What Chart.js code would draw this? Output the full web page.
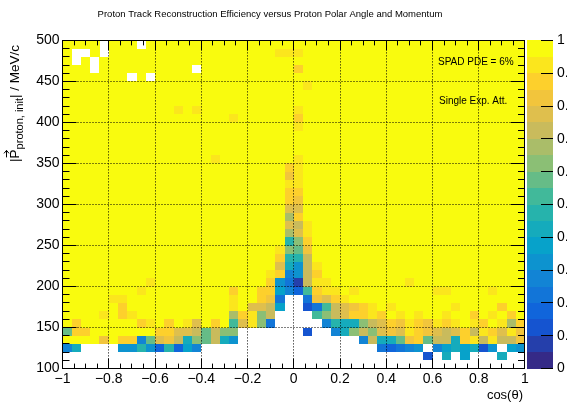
<!DOCTYPE html>
<html>
<head>
<meta charset="utf-8">
<script src="https://cdn.jsdelivr.net/npm/chart.js@4.4.0/dist/chart.umd.min.js"></script>
<style>
  html, body { margin: 0; padding: 0; background: #fff; }
  canvas { display: block; }
</style>
</head>
<body>
<canvas id="eff" width="567" height="409"></canvas>
<script>
// ---- data ----
const plotTitle = 'Proton Track Reconstruction Efficiency versus Proton Polar Angle and Momentum';
const cosMin = -1, cosMax = 1, cosBins = 50;     // cos(theta) binning
const pMin = 100, pMax = 500, pBins = 40;        // momentum binning, MeV/c
const xTicks = [-1, -0.8, -0.6, -0.4, -0.2, 0, 0.2, 0.4, 0.6, 0.8, 1];
const yTicks = [100, 150, 200, 250, 300, 350, 400, 450, 500];
const zTicks = [0, 0.1, 0.2, 0.3, 0.4, 0.5, 0.6, 0.7, 0.8, 0.9, 1];
const notes = ['SPAD PDE = 6%', 'Single Exp. Att.'];

// one char per bin = colour band
// '0'..'9','a'..'j' -> 0.00-0.05 ... 0.95-1.00, '.' = empty bin
// first string is the top row (490-500 MeV/c), groups of 10 bins
const bandChars = '0123456789abcdefghij';
const effRows = [
  'jjjj.jjj.j jjjjjjjjjj jjjjjjjjjj jjjjjjjjjj jjjjjjjjjj',
  'j..j.jjjjj jjjjjjjjjj jjjiiijjjj jjjjjjjjjj jjjjjjjjjj',
  'j.j.jjjjjj jjjjjjjjjj jjjjjjjjjj jjjjjjjjjj jjjjjjjjjj',
  'jjj.jjjjjj jjjj.jjjjj jjjjjhjjjj jjjjjjjjjj jjjjjjjjjj',
  'jjjjjjj.j. jjjjjjjjjj jjjjjjjjjj jjjjjjjjjj jjjjjjjjjj',
  'jjjjjjjjjj jjjjjjjjjj jjjjjjijjj jjjjjjjjjj jjjjjjjjjj',
  'jjjjjjjjjj jjjjjjjjjj jjjjjjjjjj jjjjjjjjjj jjjjjjjjjj',
  'jjjjjjjjjj jjjjjjjjjj jjjjjjjjjj jjjjjjjjjj jjjjjjjjjj',
  'jjjjjjjjjj jjijijjjjj jjjjjijjjj jjjjjjjjjj jjjjjjjjjj',
  'jjjjjjjjjj jjjjjjjjij jjjjjhjjjj jjjjjjjjjj jjjjjjjjjj',
  'jjjjjjjjjj jjjjjjjjjj jjjjjijjjj jjjjjjjjjj jjjjjjjjjj',
  'jjjjjjjjjj jjjjjjjjjj jjjjjjjjjj jjjjjjjjjj jjjjjjjjjj',
  'jjjjjjjjjj jjjjjjjjjj jjjjjjjjjj jjjjjjjjjj jjjjjjjjjj',
  'jjjjjjjjjj jjjjjjjjjj jjjjjjjjjj jjjjjjjjjj jjjjjjjjjj',
  'jjjjjjjjjj jjjjjjijjj jjjjjijjjj jjjjjjjjjj jjjjjjjjjj',
  'jjjjjjjjjj jjjjjjjjjj jjjjhijjjj jjjjjjjjjj jjjjjjjjjj',
  'jjjjjjjjjj jjjjjjjjjj jjjjgijjjj jjjjjjjjjj jjjjjjjjjj',
  'jjjjjjjjjj jjjjjjjjjj jjjjiijjjj jjjjjjjjjj jjjjjjjjjj',
  'jjjjjjjjjj jjjjjjjjjj jjjjhhjjjj jjjjjjjjjj jjjjjjjjjj',
  'jjjjjjjjjj jjjjjjjjjj jjjjhgjjjj jjjjjjjjjj jjjjjjjjjj',
  'jjjjjjjjjj jjjjjjjjjj jjjjffjjjj jjjjjjjjjj jjjjjjjjjj',
  'jjjjjjjjjj jjjjjjjjjj jjjjdhjjjj jjjjjjjjjj jjjjjjjjjj',
  'jjjjjjjjjj jjjjjjjjjj jjjjfeijjj jjjjjjjjjj jjjjjjjjjj',
  'jjjjjjjjjj jjjjjjjjjj jjjjdfijjj jjjjjjjjjj jjjjjjjjjj',
  'jjjjjjjjjj jjjjjjjjjj jjjj9chjjj jjjjjjjjjj jjjjjjjjjj',
  'jjjjjjjjjj jjjjjjjjjj jjjicbgjjj jjjjjjjjjj jjjjjjjjjj',
  'jjjjjjjjjj jjjjjjjjjj jjjh99ejjj jjjjjjjjjj jjjjjjjjjj',
  'jjjjjjjjjj jjjjjjjjjj jjjf86eijj jjjjjjjjjj jjjjjjjjjj',
  'jjjjjjjjjj jjjjjjjjjj jjih56ehjj jjjjjjjjjj jjjjjjjjjj',
  'jjjjjjjjji jjjjjjjjjj jjh641eiij jjjjjjjijj jjjjjjjjjj',
  'jjjjjjjjij jjjjjjjjhj jhh753ahii jijjjjjjjj iijjjjijjj',
  'jjjjjiijjj jjjjjjjjij jhg4..4gfh ijjjjjjjjj jjjjjjjjjj',
  'jjjjjjhjjj jjjjjjjjij ffe7..24ae fghijijjjj jjijjjjhjj',
  'jjjjijhijj jjjjjjjjdh ice....ace fhhihjijij jijjhjijhj',
  'jhjjjjjjhi jhjifjhjaf ic4.....59 88cefhgihg ihijihjidh',
  'bhhjjjjjjj hhffebecc. ......2..5 8cecfgfihg fefheihfig',
  'jjjjgjhh5b fge8cbe86. .......... ..5e88bghb ee8hieieeg',
  '58....6696 39375..... .......... ....43456. 5787826.76',
  '.......... .......... .......... .........2 .8.7...8..',
  '.......... .......... .......... .......... ..........'
];

// ---- ROOT kBird palette, 20 contour bands ----
const birdStops = [0, 0.125, 0.25, 0.375, 0.5, 0.625, 0.75, 0.875, 1];
const birdR = [0.2082, 0.0592, 0.0780, 0.0232, 0.1802, 0.5301, 0.8186, 0.9956, 0.9764];
const birdG = [0.1664, 0.3599, 0.5041, 0.6419, 0.7178, 0.7492, 0.7328, 0.7862, 0.9832];
const birdB = [0.5293, 0.8684, 0.8385, 0.7914, 0.6425, 0.4662, 0.3499, 0.1968, 0.0539];
const nBands = 20;

function birdColor(t) {
  let i = 0;
  while (i < birdStops.length - 2 && t > birdStops[i + 1]) i++;
  const f = (t - birdStops[i]) / (birdStops[i + 1] - birdStops[i]);
  const c = a => Math.round(255 * (a[i] + f * (a[i + 1] - a[i])));
  return `rgb(${c(birdR)},${c(birdG)},${c(birdB)})`;
}
const bandColors = Array.from({ length: nBands }, (_, i) => birdColor(i / (nBands - 1)));
const bandOf = v => Math.max(0, Math.min(nBands - 1, Math.floor(v * nBands)));

// ---- build bins for the dataset ----
const dCos = (cosMax - cosMin) / cosBins;
const dP = (pMax - pMin) / pBins;
const cells = [];
effRows.forEach((row, k) => {
  const chars = row.replace(/ /g, '');
  for (let c = 0; c < cosBins; c++) {
    const ch = chars[c];
    if (ch === '.') continue;
    const band = bandChars.indexOf(ch);
    cells.push({ x: cosMin + (c + 0.5) * dCos, y: pMax - (k + 0.5) * dP, v: (band + 0.5) / nBands });
  }
});

const FONT = '"Liberation Sans", Arial, Helvetica, sans-serif';
const crisp = v => Math.floor(v) + 0.5;
const fmtNum = v => {
  const r = Math.round(v * 10) / 10;
  return r < 0 ? '\u2212' + Math.abs(r) : String(r);
};

/** ------------------------
 *  TH2 "colz" painter
 ------------------------ */
const colzPlugin = {
  id: 'colz',
  beforeDatasetsDraw(chart) {
    const { ctx } = chart;
    const xs = chart.scales.x, ys = chart.scales.y;
    ctx.save();
    chart.data.datasets[0].data.forEach(p => {
      const x0 = Math.round(xs.getPixelForValue(p.x - dCos / 2));
      const x1 = Math.round(xs.getPixelForValue(p.x + dCos / 2));
      const y0 = Math.round(ys.getPixelForValue(p.y + dP / 2));
      const y1 = Math.round(ys.getPixelForValue(p.y - dP / 2));
      ctx.fillStyle = bandColors[bandOf(p.v)];
      ctx.fillRect(x0, y0, x1 - x0, y1 - y0);
    });
    ctx.restore();
  },
  afterDatasetsDraw(chart) {
    const { ctx, chartArea: a } = chart;
    const xs = chart.scales.x, ys = chart.scales.y, zs = chart.scales.z;
    ctx.save();
    ctx.strokeStyle = '#000';
    ctx.lineWidth = 1;

    // dotted grid at major ticks
    ctx.setLineDash([1, 2]);
    ctx.beginPath();
    xTicks.slice(1, -1).forEach(t => {
      const px = crisp(xs.getPixelForValue(t));
      ctx.moveTo(px, a.top); ctx.lineTo(px, a.bottom);
    });
    yTicks.slice(1, -1).forEach(t => {
      const py = crisp(ys.getPixelForValue(t));
      ctx.moveTo(a.left, py); ctx.lineTo(a.right, py);
    });
    ctx.stroke();
    ctx.setLineDash([]);

    // tick marks inside the frame, on all four sides
    ctx.beginPath();
    const xMinor = 4, yMinor = 5;
    for (let i = 0; i < xTicks.length - 1; i++) {
      const step = (xTicks[i + 1] - xTicks[i]) / xMinor;
      for (let j = 0; j < xMinor; j++) {
        const px = crisp(xs.getPixelForValue(xTicks[i] + j * step));
        const len = j === 0 ? 10 : 5;
        ctx.moveTo(px, a.bottom); ctx.lineTo(px, a.bottom - len);
        ctx.moveTo(px, a.top); ctx.lineTo(px, a.top + len);
      }
    }
    for (let i = 0; i < yTicks.length - 1; i++) {
      const step = (yTicks[i + 1] - yTicks[i]) / yMinor;
      for (let j = 0; j < yMinor; j++) {
        const py = crisp(ys.getPixelForValue(yTicks[i] + j * step));
        const len = j === 0 ? 14 : 7;
        ctx.moveTo(a.left, py); ctx.lineTo(a.left + len, py);
        ctx.moveTo(a.right, py); ctx.lineTo(a.right - len, py);
      }
    }
    ctx.stroke();
    ctx.strokeRect(crisp(a.left), crisp(a.top), Math.round(a.right - a.left) - 1, Math.round(a.bottom - a.top));

    // palette
    const barL = 527, barR = 553;
    for (let i = 0; i < nBands; i++) {
      const yTop = Math.round(zs.getPixelForValue((i + 1) / nBands));
      const yBot = Math.round(zs.getPixelForValue(i / nBands));
      ctx.fillStyle = bandColors[i];
      ctx.fillRect(barL, yTop, barR - barL, yBot - yTop);
    }
    ctx.beginPath();
    zTicks.forEach(t => {
      const py = crisp(zs.getPixelForValue(t));
      ctx.moveTo(barR, py); ctx.lineTo(barR - 12, py);
    });
    ctx.stroke();
    ctx.restore();
  },
  afterDraw(chart) {
    const { ctx } = chart;
    ctx.save();
    ctx.fillStyle = '#000';
    ctx.textBaseline = 'alphabetic';

    // title
    ctx.font = `9.5px ${FONT}`;
    ctx.textAlign = 'center';
    ctx.fillText(plotTitle, 270, 16.5);

    // notes
    ctx.font = `10px ${FONT}`;
    ctx.textAlign = 'left';
    ctx.fillText(notes[0], 438, 64.5);
    ctx.fillText(notes[1], 439, 104);

    // x title
    ctx.font = `13px ${FONT}`;
    ctx.textAlign = 'right';
    ctx.fillText('cos(\u03b8)', 523, 399);

    // y title: |P(vec)_{proton, init}| / MeV/c, rotated
    ctx.textAlign = 'left';
    const big = `13.5px ${FONT}`, small = `11px ${FONT}`;
    const parts = [
      { t: '|', f: big, dy: 0 },
      { t: 'P', f: big, dy: 0, arrow: true },
      { t: 'proton, init', f: small, dy: 3.5 },
      { t: '| / MeV/c', f: big, dy: 0 }
    ];
    let total = 0;
    parts.forEach(p => { ctx.font = p.f; p.w = ctx.measureText(p.t).width; total += p.w; });
    ctx.translate(19, 45);
    ctx.rotate(-Math.PI / 2);
    let x = -total;
    parts.forEach(p => {
      ctx.font = p.f;
      ctx.fillText(p.t, x, p.dy);
      if (p.arrow) {
        const ay = -12.5;
        ctx.beginPath();
        ctx.lineWidth = 1;
        ctx.strokeStyle = '#000';
        ctx.moveTo(x + 1, ay); ctx.lineTo(x + p.w - 1, ay);
        ctx.moveTo(x + p.w - 4, ay - 2.5); ctx.lineTo(x + p.w - 1, ay); ctx.lineTo(x + p.w - 4, ay + 2.5);
        ctx.stroke();
      }
      x += p.w;
    });
    ctx.restore();
  }
};

const tickFont = { family: FONT, size: 14 };
new Chart(document.getElementById('eff').getContext('2d'), {
  type: 'scatter',
  data: { datasets: [{ data: cells, pointRadius: 0, pointHoverRadius: 0, showLine: false }] },
  options: {
    responsive: false,
    animation: false,
    events: [],
    layout: { padding: { top: 39.5, left: 0, right: 0, bottom: 0 } },
    plugins: { legend: { display: false }, tooltip: { enabled: false }, title: { display: false } },
    scales: {
      x: {
        type: 'linear', min: cosMin, max: cosMax,
        grid: { display: false, drawTicks: false }, border: { display: false },
        afterBuildTicks: s => { s.ticks = xTicks.map(v => ({ value: v })); },
        ticks: { color: '#000', font: tickFont, padding: 2, maxRotation: 0, autoSkip: false, callback: v => fmtNum(v) },
        afterFit: s => { s.height = 37.5; }
      },
      y: {
        type: 'linear', min: pMin, max: pMax,
        grid: { display: false, drawTicks: false }, border: { display: false },
        afterBuildTicks: s => { s.ticks = yTicks.map(v => ({ value: v })); },
        ticks: { color: '#000', font: tickFont, padding: 3, autoSkip: false },
        afterFit: s => { s.width = 62.5; }
      },
      z: {
        type: 'linear', position: 'right', min: 0, max: 1,
        grid: { display: false, drawTicks: false }, border: { display: false },
        afterBuildTicks: s => { s.ticks = zTicks.map(v => ({ value: v })); },
        ticks: { color: '#000', font: tickFont, padding: 32, autoSkip: false, callback: v => fmtNum(v) },
        afterFit: s => { s.width = 42; }
      }
    }
  },
  plugins: [colzPlugin]
});
</script>
</body>
</html>
